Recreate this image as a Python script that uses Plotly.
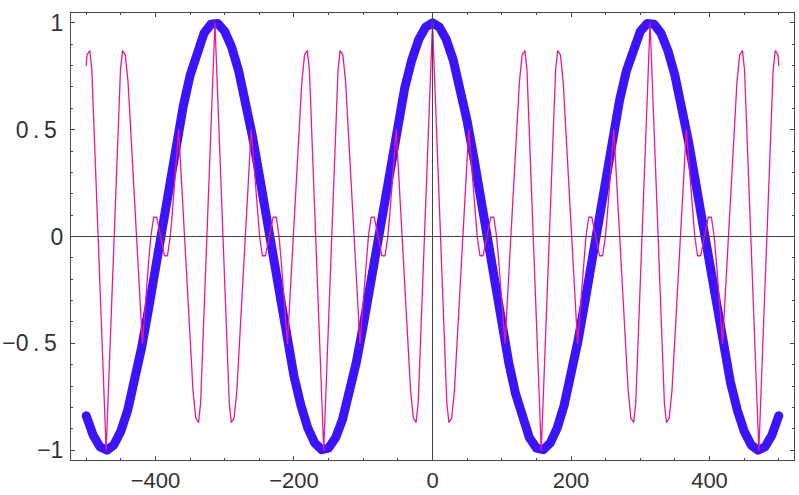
import plotly.graph_objects as go

# ---- data ----
blue_x = [-500, -490, -480, -470, -460, -450, -440, -430, -420, -410, -400, -390, -380,
          -370, -360, -350, -340, -330, -320, -310, -300, -290, -280, -270, -260, -250,
          -240, -230, -220, -210, -200, -190, -180, -170, -160, -150, -140, -130, -120,
          -110, -100, -90, -80, -70, -60, -50, -40, -30, -20, -10, 0,
          10, 20, 30, 40, 50, 60, 70, 80, 90, 100, 110, 120, 130, 140, 150, 160, 170,
          180, 190, 200, 210, 220, 230, 240, 250, 260, 270, 280, 290, 300, 310, 320,
          330, 340, 350, 360, 370, 380, 390, 400, 410, 420, 430, 440, 450, 460, 470,
          480, 490, 500]
blue_y = [-0.839, -0.930, -0.985, -1.000, -0.975, -0.911, -0.811, -0.679, -0.519, -0.339,
          -0.146, 0.054, 0.251, 0.439, 0.608, 0.754, 0.869, 0.951, 0.993, 0.997, 0.960,
          0.886, 0.776, 0.635, 0.469, 0.284, 0.087, -0.112, -0.307, -0.490, -0.654,
          -0.791, -0.897, -0.967, -0.998, -0.990, -0.942, -0.857, -0.737, -0.589, -0.416,
          -0.227, -0.029, 0.170, 0.362, 0.540, 0.697, 0.825, 0.921, 0.980, 1.000,
          0.980, 0.921, 0.825, 0.697, 0.540, 0.362, 0.170, -0.029, -0.227, -0.416,
          -0.589, -0.737, -0.857, -0.942, -0.990, -0.998, -0.967, -0.897, -0.791,
          -0.654, -0.490, -0.307, -0.112, 0.087, 0.284, 0.469, 0.635, 0.776, 0.886,
          0.960, 0.997, 0.993, 0.951, 0.869, 0.754, 0.608, 0.439, 0.251, 0.054, -0.146,
          -0.339, -0.519, -0.679, -0.811, -0.911, -0.975, -1.000, -0.985, -0.930, -0.839]

pink_x = [-500.00, -498.92, -494.92, -491.92, -471.24, -450.56, -447.56, -443.56, -439.56,
          -418.88, -409.70, -406.70, -402.70, -398.20, -387.20, -382.70, -378.70, -375.70,
          -366.52, -345.84, -341.84, -337.84, -334.84, -314.16, -293.48, -290.48, -286.48,
          -282.48, -261.80, -252.62, -249.62, -245.62, -241.12, -230.12, -225.62, -221.62,
          -218.62, -209.44, -188.76, -184.76, -180.76, -177.76, -157.08, -136.40, -133.40,
          -129.40, -125.40, -104.72, -95.54, -92.54, -88.54, -84.04, -73.04, -68.54,
          -64.54, -61.54, -52.36, -31.68, -27.68, -23.68, -20.68, 0.00,
          20.68, 23.68, 27.68, 31.68, 52.36, 61.54, 64.54, 68.54, 73.04, 84.04, 88.54,
          92.54, 95.54, 104.72, 125.40, 129.40, 133.40, 136.40, 157.08, 177.76, 180.76,
          184.76, 188.76, 209.44, 218.62, 221.62, 225.62, 230.12, 241.12, 245.62, 249.62,
          252.62, 261.80, 282.48, 286.48, 290.48, 293.48, 314.16, 334.84, 337.84, 341.84,
          345.84, 366.52, 375.70, 378.70, 382.70, 387.20, 398.20, 402.70, 406.70, 409.70,
          418.88, 439.56, 443.56, 447.56, 450.56, 471.24, 491.92, 494.92, 498.92, 500.00]
pink_y = [0.80, 0.85, 0.87, 0.78, -1.00, 0.78, 0.87, 0.85, 0.72,
          -0.50, -0.11, 0.00, 0.09, 0.09, -0.09, -0.09, 0.00, 0.11,
          0.50, -0.72, -0.85, -0.87, -0.78, 1.00, -0.78, -0.87, -0.85,
          -0.72, 0.50, 0.11, 0.00, -0.09, -0.09, 0.09, 0.09, 0.00,
          -0.11, -0.50, 0.72, 0.85, 0.87, 0.78, -1.00, 0.78, 0.87,
          0.85, 0.72, -0.50, -0.11, 0.00, 0.09, 0.09, -0.09, -0.09,
          0.00, 0.11, 0.50, -0.72, -0.85, -0.87, -0.78, 1.00,
          -0.78, -0.87, -0.85, -0.72, 0.50, 0.11, 0.00, -0.09, -0.09, 0.09, 0.09,
          0.00, -0.11, -0.50, 0.72, 0.85, 0.87, 0.78, -1.00, 0.78, 0.87,
          0.85, 0.72, -0.50, -0.11, 0.00, 0.09, 0.09, -0.09, -0.09, 0.00,
          0.11, 0.50, -0.72, -0.85, -0.87, -0.78, 1.00, -0.78, -0.87, -0.85,
          -0.72, 0.50, 0.11, 0.00, -0.09, -0.09, 0.09, 0.09, 0.00, -0.11,
          -0.50, 0.72, 0.85, 0.87, 0.78, -1.00, 0.78, 0.87, 0.85, 0.80]

x_tickvals = [-400, -200, 0, 200, 400]
x_ticktext = ["\u2212400", "\u2212200", "0", "200", "400"]
x_minorvals = [-500, -450, -350, -300, -250, -150, -100, -50, 50, 100, 150, 250, 300, 350, 450, 500]
y_tickvals = [-1, -0.5, 0, 0.5, 1]
y_ticktext = ["\u22121", "\u22120\u2009.\u20095\u2009\u200a", "0", "0\u2009.\u20095\u2009\u200a", "1"]
y_minorvals = [-0.9, -0.8, -0.7, -0.6, -0.4, -0.3, -0.2, -0.1, 0.1, 0.2, 0.3, 0.4, 0.6, 0.7, 0.8, 0.9]

BLUE = "rgb(60,20,252)"
PINK = "rgb(236,24,148)"
FRAME = "#4a4a4a"
FONT = "Liberation Sans, Arial, sans-serif"

fig = go.Figure()
fig.add_trace(go.Scatter(x=blue_x, y=blue_y, mode="lines",
                         line=dict(color=BLUE, width=9), hoverinfo="skip"))
fig.add_trace(go.Scatter(x=pink_x, y=pink_y, mode="lines",
                         line=dict(color=PINK, width=1.3), hoverinfo="skip"))

axis_common = dict(showgrid=False, zeroline=False, showline=True, linecolor=FRAME,
                   linewidth=1, mirror="allticks", ticks="inside", ticklen=4,
                   tickcolor=FRAME, tickwidth=1)

fig.update_xaxes(range=[-522, 522], tickmode="array", tickvals=x_tickvals,
                 ticktext=x_ticktext, ticklabelstandoff=1,
                 tickfont=dict(family=FONT, size=22, color="#333333"),
                 minor=dict(tickmode="array", tickvals=x_minorvals, ticks="inside",
                            ticklen=2, tickcolor=FRAME),
                 **axis_common)
fig.update_yaxes(range=[-1.046, 1.046], tickmode="array", tickvals=y_tickvals,
                 ticktext=y_ticktext, ticklabelstandoff=2,
                 tickfont=dict(family=FONT, size=23, color="#333333"),
                 minor=dict(tickmode="array", tickvals=y_minorvals, ticks="inside",
                            ticklen=2, tickcolor=FRAME),
                 **axis_common)

# axes through the origin, drawn above the curves
fig.add_shape(type="line", xref="x", yref="paper", x0=0, x1=0, y0=0, y1=1,
              line=dict(color="#444444", width=1), layer="above")
fig.add_shape(type="line", xref="paper", yref="y", x0=0, x1=1, y0=0, y1=0,
              line=dict(color="#444444", width=1), layer="above")

fig.update_layout(width=799, height=495, showlegend=False,
                  paper_bgcolor="white", plot_bgcolor="white",
                  margin=dict(l=71, r=5, t=13, b=35, autoexpand=False))

post = ("document.querySelectorAll('.scatterlayer path.js-line').forEach(function(p){"
        "p.style.strokeLinecap='round';p.style.strokeLinejoin='round';});")
fig.write_html("out.html", post_script=post)
